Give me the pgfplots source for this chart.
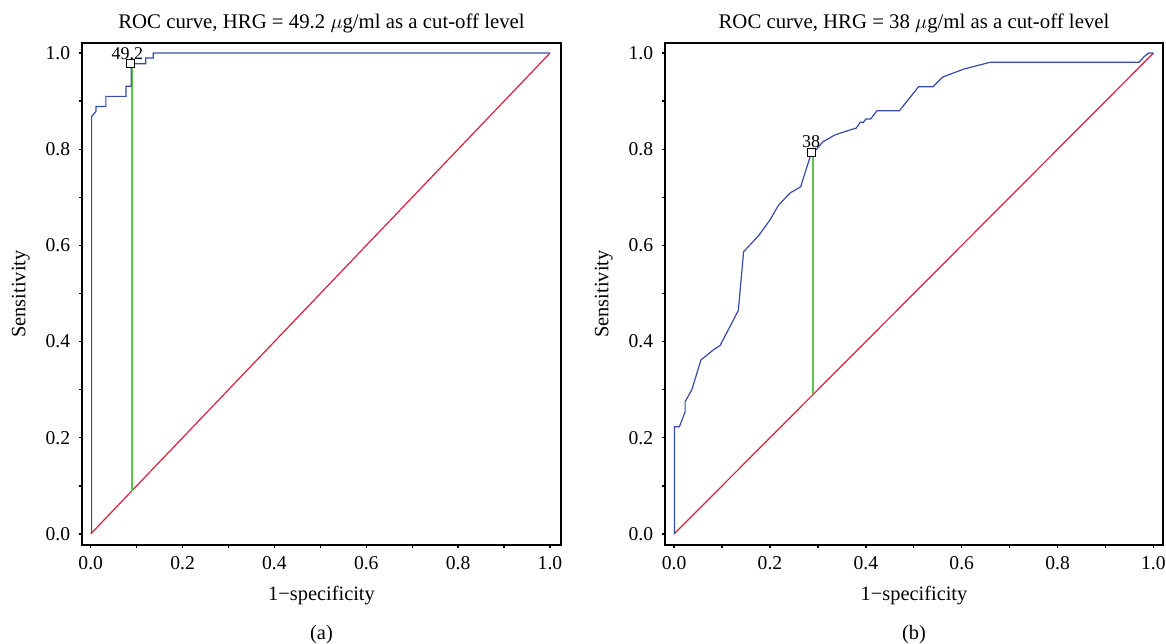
\documentclass[border=0pt]{standalone}
\usepackage{fontspec}
\setmainfont{Liberation Serif}
\usepackage{pgfplots}
\pgfplotsset{compat=1.18}
\definecolor{rocblue}{RGB}{55,75,170}
\definecolor{rocred}{RGB}{220,30,60}
\definecolor{rocgreen}{RGB}{90,200,70}
\pgfplotsset{
  /pgf/number format/.cd, fixed, fixed zerofill, precision=1, assume math mode=true,
  /pgfplots/.cd,
  rocaxis/.style={
    scale only axis, height=251pt,
    xmin=-0.019, xmax=1.024, ymin=-0.023, ymax=1.021,
    xtick={0,0.2,0.4,0.6,0.8,1}, ytick={0,0.2,0.4,0.6,0.8,1},
    minor tick num=1,
    tick align=outside, major tick length=1.4pt, minor tick length=1.4pt,
    tick style={line width=0.7pt, black},
    xtick pos=left, ytick pos=left,
    axis line style={line width=0.8pt},
    font=\fontsize{9.8pt}{12pt}\selectfont,
    xticklabel style={anchor=base, inner sep=0pt, yshift=-10.9pt},
    yticklabel style={anchor=east, inner sep=0pt, xshift=-4.35pt},
    title style={at={(axis description cs:0.5,1)}, anchor=base, yshift=1.4pt, inner sep=0pt, font=\fontsize{10.4pt}{12pt}\selectfont},
    xlabel style={at={(axis description cs:0.5,0)}, anchor=base, yshift=-27.5pt, inner sep=0pt, font=\fontsize{10.2pt}{12pt}\selectfont},
    ylabel style={anchor=base, inner sep=0pt, font=\fontsize{10.2pt}{12pt}\selectfont},
    xlabel={1−specificity}, ylabel={Sensitivity},
  },
  rocline/.style={color=rocblue, line width=0.6pt},
  diag/.style={color=rocred, line width=0.6pt},
  cut/.style={color=rocgreen, line width=1pt},
  cutmark/.style={only marks, mark=square*, mark size=2pt, mark options={draw=black, fill=white, line width=0.6pt}},
}
\begin{document}
\begin{tikzpicture}
\useasboundingbox (0,0) rectangle (583pt,321.5pt);
% ---------- (a)
\begin{axis}[rocaxis, name=L, width=239.5pt, at={(41pt,49pt)}, anchor=south west,
  title={ROC curve, HRG = 49.2 $\mu$g/ml as a cut-off level},
  ylabel style={at={(axis description cs:-0.1184,0.5)}}]
\addplot[diag] coordinates {(0,0) (1,1)};
\addplot[cut] coordinates {(0.0895,0.0895) (0.0895,0.978)};
\addplot[rocline] coordinates {
(0.002,0) (0.002,0.868) (0.0115,0.879) (0.0115,0.889) (0.033,0.889) (0.033,0.910)
(0.077,0.910) (0.077,0.931) (0.088,0.931) (0.088,0.978) (0.120,0.978) (0.120,0.990)
(0.136,0.990) (0.136,1.0) (1.0,1.0)};
\addplot[cutmark] coordinates {(0.087,0.978)};
\node[anchor=base, inner sep=0pt, font=\fontsize{9pt}{10pt}\selectfont] at (axis cs:0.080,0.978) [yshift=2pt] {49.2};
\end{axis}
% ---------- (b)
\begin{axis}[rocaxis, name=R, width=249pt, at={(332.5pt,49pt)}, anchor=south west,
  xmin=-0.019, xmax=1.020,
  title={ROC curve, HRG = 38 $\mu$g/ml as a cut-off level},
  ylabel style={at={(axis description cs:-0.1139,0.5)}}]
\addplot[diag] coordinates {(0,0) (1,1)};
\addplot[cut] coordinates {(0.289,0.291) (0.289,0.794)};
\addplot[rocline] coordinates {
(0.001,0) (0.001,0.223) (0.011,0.223) (0.023,0.254) (0.023,0.275) (0.037,0.300)
(0.056,0.362) (0.065,0.369) (0.082,0.383) (0.096,0.392) (0.134,0.465) (0.145,0.587)
(0.176,0.620) (0.200,0.653) (0.218,0.684) (0.242,0.709) (0.264,0.722) (0.284,0.785)
(0.311,0.816) (0.336,0.830) (0.360,0.838) (0.380,0.844) (0.388,0.856) (0.395,0.856)
(0.400,0.863) (0.410,0.863) (0.423,0.880) (0.470,0.880) (0.510,0.930) (0.540,0.930)
(0.560,0.950) (0.605,0.967) (0.660,0.981) (0.970,0.981) (0.980,0.992) (0.990,1.0) (1.0,1.0)};
\addplot[cutmark] coordinates {(0.287,0.794)};
\node[anchor=base, inner sep=0pt, font=\fontsize{9pt}{10pt}\selectfont] at (axis cs:0.286,0.794) [yshift=2.5pt] {38};
\end{axis}
\node[anchor=base, inner sep=0pt, font=\fontsize{10.2pt}{12pt}\selectfont] at ([yshift=-47pt]L.south) {(a)};
\node[anchor=base, inner sep=0pt, font=\fontsize{10.2pt}{12pt}\selectfont] at ([yshift=-47pt]R.south) {(b)};
\end{tikzpicture}
\end{document}
